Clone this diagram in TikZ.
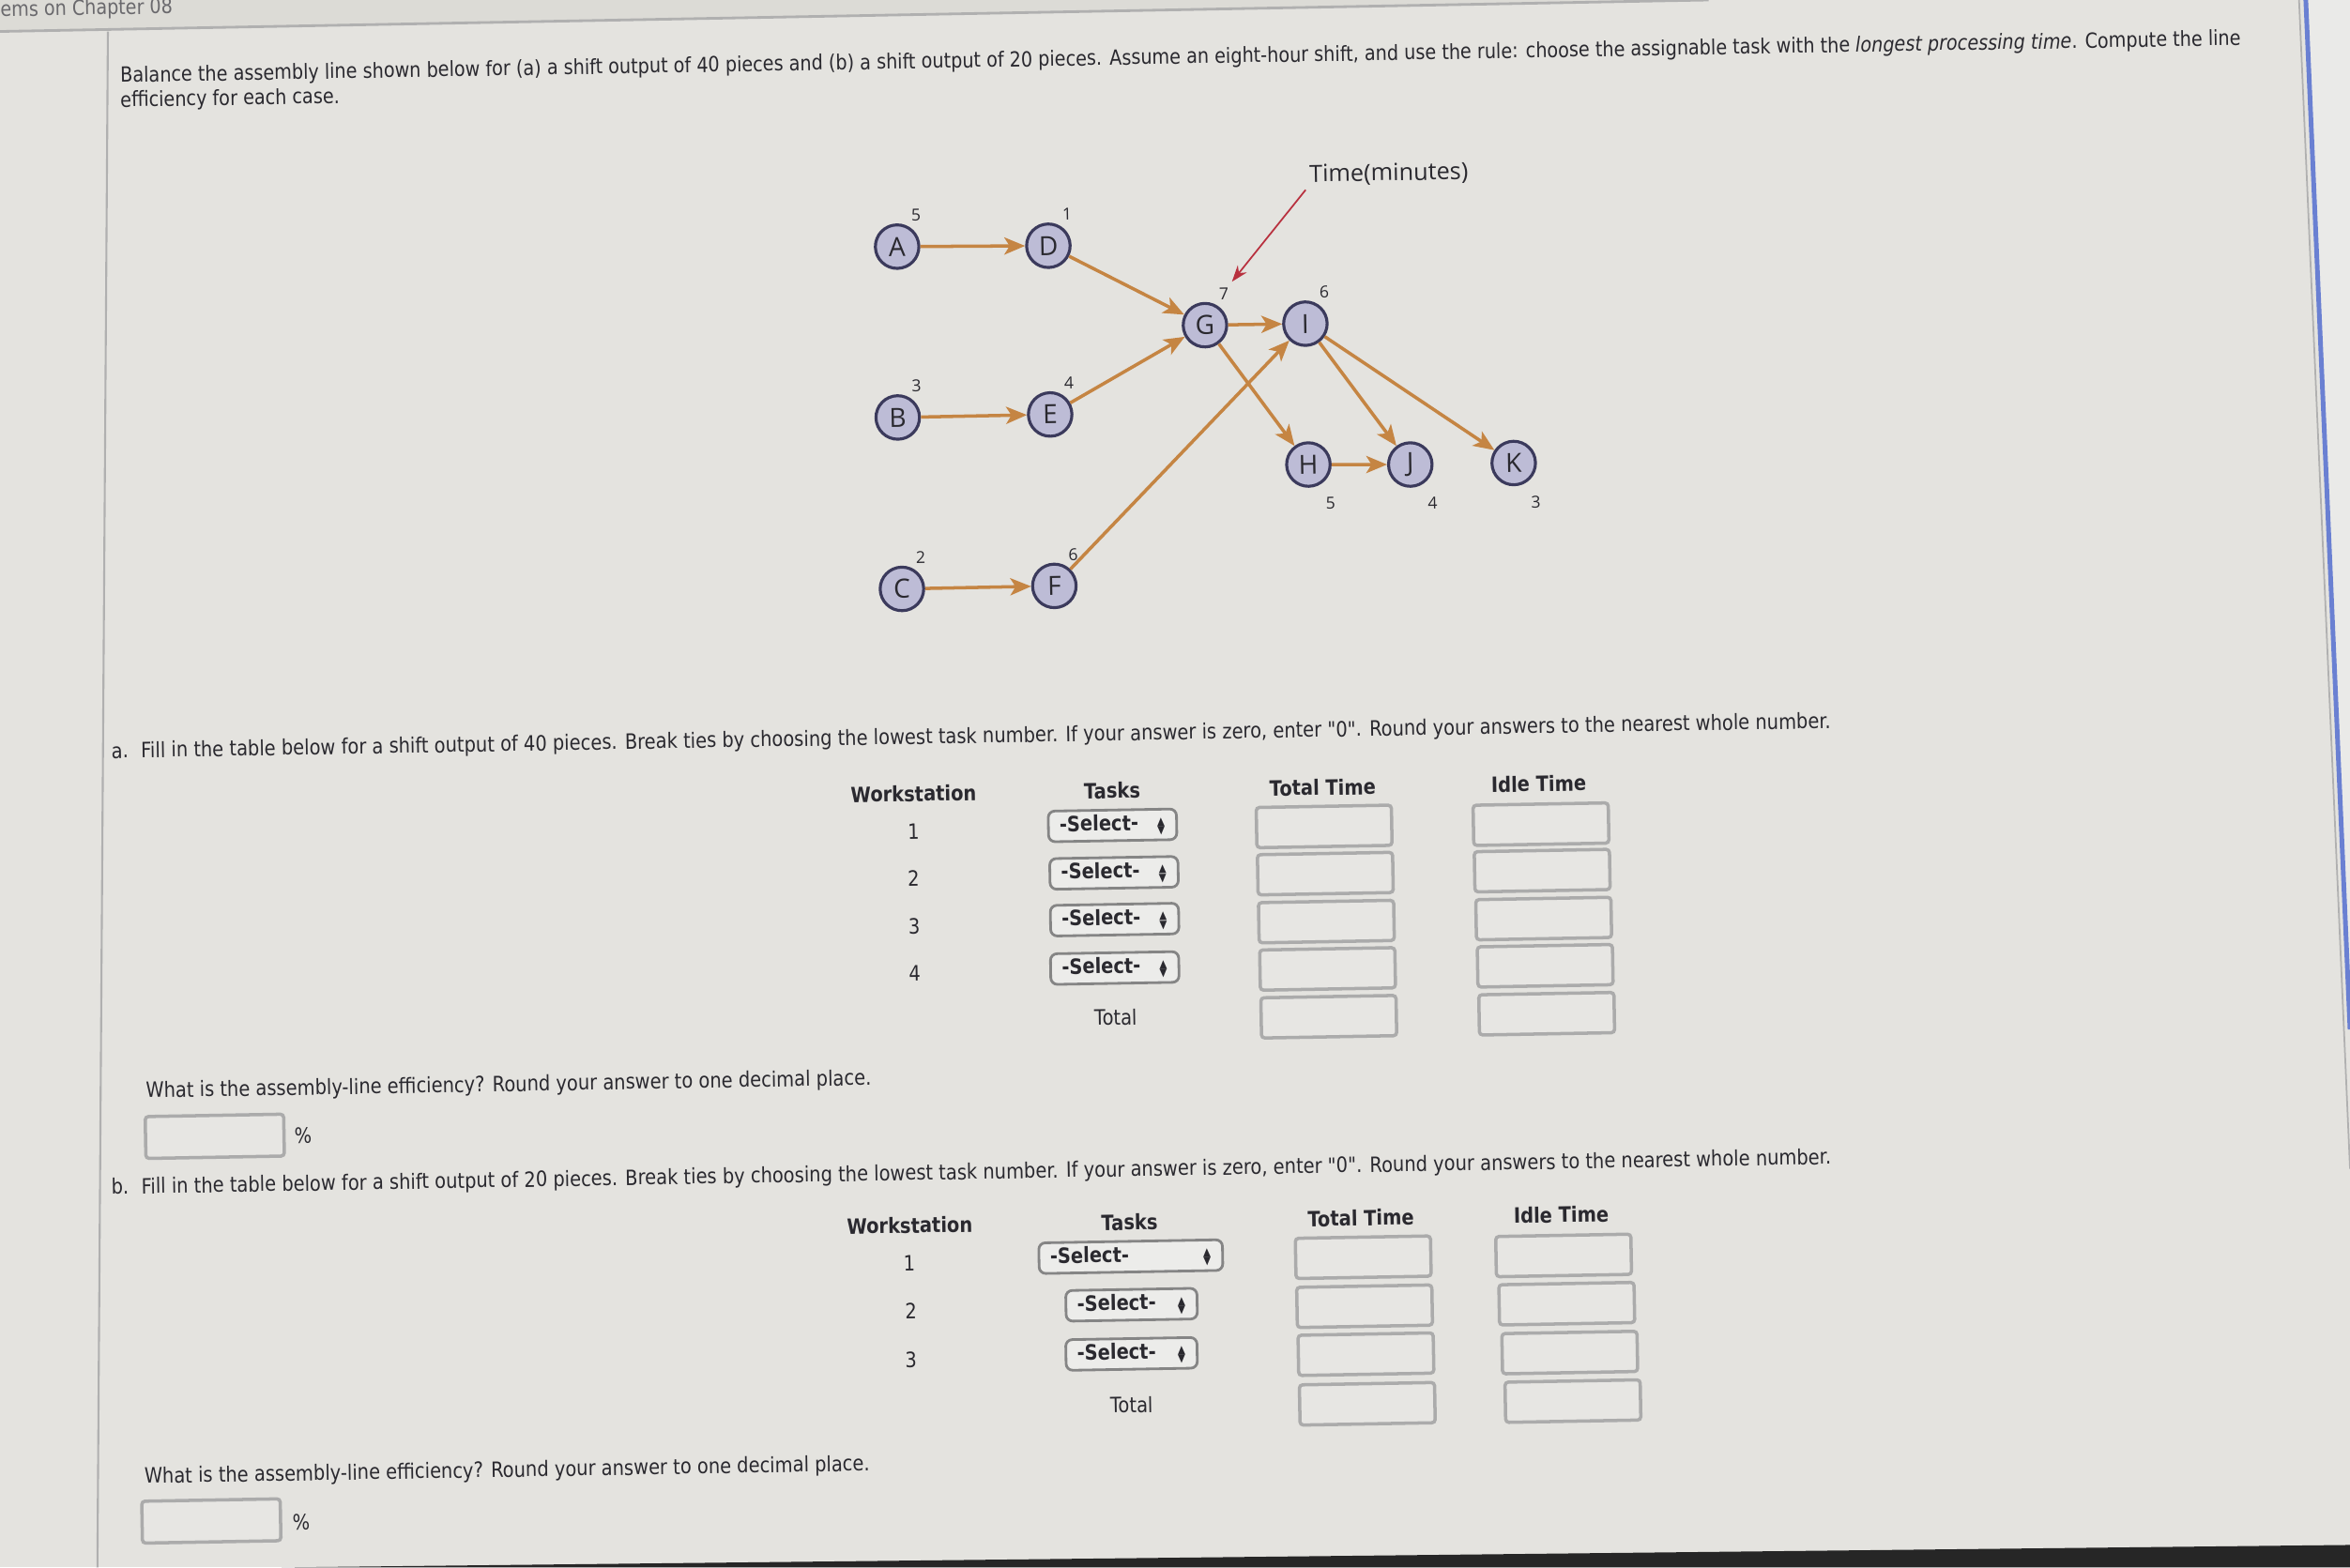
\documentclass[tikz,border=0pt]{standalone}
\usepackage{fontspec}
\setmainfont{DejaVu Sans}[FakeStretch=0.865, Ligatures=TeXOff, ItalicFont={DejaVu Sans Oblique}, BoldFont={DejaVu Sans Bold}]
\newfontfamily\diagfont{Open Sans}
\usetikzlibrary{arrows.meta}
\definecolor{screen}{HTML}{E4E3DF}
\definecolor{tabbar}{HTML}{DCDBD6}
\definecolor{sidepane}{HTML}{EAEAE8}
\definecolor{frame}{HTML}{B0B0B0}
\definecolor{bluebar}{HTML}{6A80D2}
\definecolor{darkband}{HTML}{262626}
\definecolor{ink}{HTML}{2A292F}
\definecolor{nodefill}{HTML}{BDBCD6}
\definecolor{nodeline}{HTML}{3B3A5C}
\definecolor{flowc}{HTML}{C58543}
\definecolor{timered}{HTML}{B8313F}
\definecolor{boxline}{HTML}{ABABAB}
\definecolor{boxfill}{HTML}{E7E6E3}
\definecolor{selline}{HTML}{858585}
\definecolor{selfill}{HTML}{ECECEA}
\newcommand{\updown}{{\fontsize{3.4}{3.6}\selectfont\raisebox{1.5pt}{▲}\llap{\raisebox{-1.2pt}{▼}}}}
\newcommand{\selfield}[1]{\makebox[#1][l]{\hspace{3.4pt}-Select-\hfill\updown\hspace{3.6pt}}}
\begin{document}
\begin{tikzpicture}[x=0.01597cm, y=-0.01597cm,
  font=\fontsize{6.4}{7.6}\selectfont,
  every node/.append style={rotate=1},
  task/.style={circle, draw=nodeline, fill=nodefill, line width=0.9pt, minimum size=13.2pt, inner sep=0pt, text=ink, font=\diagfont\fontsize{8}{8}\selectfont},
  tlbl/.style={inner sep=0pt, text=ink, font=\diagfont\fontsize{5}{5}\selectfont},
  flow/.style={-{Stealth[length=6.3pt,width=5.2pt,inset=1.6pt]}, draw=flowc, line width=1pt},
  prose/.style={anchor=base west, inner sep=0pt, text=ink},
  colhead/.style={inner sep=0pt, text=ink, font=\bfseries\fontsize{6.4}{7.6}\selectfont},
  cell/.style={inner sep=0pt, text=ink},
  inbox/.style={draw=boxline, fill=boxfill, line width=1pt, rounded corners=1pt, minimum width=41pt, minimum height=12.2pt, inner sep=0pt},
  selbox/.style={draw=selline, fill=selfill, line width=0.8pt, rounded corners=2pt, minimum height=9.3pt, inner sep=0pt, text=ink, font=\bfseries\fontsize{6.4}{7.6}\selectfont}]
\useasboundingbox (0,0) rectangle (1568,1046);
\fill[screen] (0,0) rectangle (1568,1046);
\fill[tabbar] (0,0) -- (1140,0) -- (0,21) -- cycle;
\draw[frame, line width=0.8pt] (0,21) -- (1140,0);
\draw[frame, line width=0.6pt] (72,21) -- (65,1046);
\fill[sidepane] (1540,0) -- (1568,0) -- (1568,687) -- cycle;
\draw[frame, line width=0.5pt] (1534,0) -- (1568,780);
\draw[bluebar, line width=1.4pt] (1538.5,0) -- (1568,687);
\fill[darkband] (188,1046) -- (1568,1031) -- (1568,1046) -- cycle;
\node[anchor=base west, inner sep=0pt, text=ink!70, font=\fontsize{6.3}{7}\selectfont] (chap) at (0,11) {ems on Chapter 08};

% question text
\node[prose, font=\fontsize{6.32}{7.6}\selectfont] (intro1) at (80,55) {Balance the assembly line shown below for (a) a shift output of 40 pieces and (b) a shift output of 20 pieces. Assume an eight-hour shift, and use the rule: choose the assignable task with the \textit{longest processing time}. Compute the line};
\node[prose, font=\fontsize{6.32}{7.6}\selectfont] (intro2) at (80,71.5) {efficiency for each case.};

% precedence diagram
\node[task, label={[tlbl,label distance=1.5pt]60:5}] (A) at (598.6,164.6) {A};
\node[task, label={[tlbl,label distance=1.5pt]60:1}] (D) at (699.5,164) {D};
\node[task, label={[tlbl,label distance=1.5pt]60:7}] (G) at (804,217) {G};
\node[task, label={[tlbl,label distance=1.5pt]60:6}] (I) at (871,216) {I};
\node[task, label={[tlbl,label distance=1.5pt]60:3}] (B) at (599,278.6) {B};
\node[task, label={[tlbl,label distance=1.5pt]60:4}] (E) at (700.7,276.6) {E};
\node[task, label={[tlbl,label distance=1.5pt]60:2}] (C) at (601.8,393) {C};
\node[task, label={[tlbl,label distance=1.5pt]60:6}] (F) at (703.5,391) {F};
\node[task, label={[tlbl,label distance=4pt]-64:5}] (H) at (873,310) {H};
\node[task, label={[tlbl,label distance=4pt]-64:4}] (J) at (941,310) {J};
\node[task, label={[tlbl,label distance=4pt]-64:3}] (K) at (1010,309) {K};
\draw[flow] (A) -- (D);
\draw[flow] (B) -- (E);
\draw[flow] (C) -- (F);
\draw[flow] (D) -- (G);
\draw[flow] (E) -- (G);
\draw[flow] (F) -- (I);
\draw[flow] (G) -- (I);
\draw[flow] (G) -- (H);
\draw[flow] (H) -- (J);
\draw[flow] (I) -- (J);
\draw[flow] (I) -- (K);
\node[anchor=west, inner sep=1pt, text=ink, font=\diagfont\fontsize{7.2}{8}\selectfont] (timelbl) at (871,117) {Time(minutes)};
\coordinate (timetip) at (822,188);
\draw[-{Stealth[length=5pt,width=3.5pt]}, timered, line width=0.5pt] (timelbl.south west) -- (timetip);

% part a
\node[prose] (parta) at (74,506) {a.\hspace{0.6em}Fill in the table below for a shift output of 40 pieces. Break ties by choosing the lowest task number. If your answer is zero, enter "0". Round your answers to the nearest whole number.};
\node[colhead] (wsa) at (609.6,529.6) {Workstation};
\node[colhead] (tka) at (742,527.5) {Tasks};
\node[colhead] (tta) at (882.5,525.4) {Total Time};
\node[colhead] (ita) at (1026.7,523) {Idle Time};
\node[cell] (wa1) at (609.6,555) {1};
\node[cell] (wa2) at (609.6,586) {2};
\node[cell] (wa3) at (610,618) {3};
\node[cell] (wa4) at (610.3,649.4) {4};
\node[cell] (tota) at (744.4,678.8) {Total};
\node[selbox] (sa1) at (742.3,550.8) {\selfield{38.9pt}};
\node[selbox] (sa2) at (743.3,582.5) {\selfield{38.9pt}};
\node[selbox] (sa3) at (743.7,613.7) {\selfield{38.9pt}};
\node[selbox] (sa4) at (743.8,646) {\selfield{38.9pt}};
\node[inbox] (ta1) at (883.5,551.5) {};
\node[inbox] (ta2) at (884.3,583) {};
\node[inbox] (ta3) at (885,615) {};
\node[inbox] (ta4) at (885.8,646.6) {};
\node[inbox] (ta5) at (886.6,678.5) {};
\node[inbox] (ia1) at (1028.2,550) {};
\node[inbox] (ia2) at (1029,581) {};
\node[inbox] (ia3) at (1030,613) {};
\node[inbox] (ia4) at (1031,644.5) {};
\node[inbox] (ia5) at (1032,676.5) {};
\node[prose] (effqa) at (97,732.6) {What is the assembly-line efficiency? Round your answer to one decimal place.};
\node[inbox, minimum width=42pt, minimum height=12.7pt] (effa) at (143.3,758.3) {};
\node[cell] (pcta) at (202.3,757.6) {\%};

% part b
\node[prose] (partb) at (74,797) {b.\hspace{0.6em}Fill in the table below for a shift output of 20 pieces. Break ties by choosing the lowest task number. If your answer is zero, enter "0". Round your answers to the nearest whole number.};
\node[colhead] (wsb) at (607,817.6) {Workstation};
\node[colhead] (tkb) at (753.6,815.6) {Tasks};
\node[colhead] (ttb) at (908,812.7) {Total Time};
\node[colhead] (itb) at (1041.7,810.6) {Idle Time};
\node[cell] (wb1) at (606.8,842.8) {1};
\node[cell] (wb2) at (607.8,875) {2};
\node[cell] (wb3) at (607.8,907.3) {3};
\node[cell] (totb) at (755,937.4) {Total};
\node[selbox] (sb1) at (754.5,838.6) {\selfield{55.7pt}};
\node[selbox] (sb2) at (755,870.7) {\selfield{39.8pt}};
\node[selbox] (sb3) at (755,903.5) {\selfield{39.8pt}};
\node[inbox] (tb1) at (909.6,839) {};
\node[inbox] (tb2) at (910.5,871.7) {};
\node[inbox] (tb3) at (911.4,903.7) {};
\node[inbox] (tb4) at (912.3,936.8) {};
\node[inbox] (ib1) at (1043.3,837.8) {};
\node[inbox] (ib2) at (1045.4,870) {};
\node[inbox] (ib3) at (1047.4,902.6) {};
\node[inbox] (ib4) at (1049.5,935) {};
\node[prose] (effqb) at (96,990) {What is the assembly-line efficiency? Round your answer to one decimal place.};
\node[inbox, minimum width=42pt, minimum height=12.7pt] (effb) at (141,1015) {};
\node[cell] (pctb) at (201,1015.5) {\%};
\end{tikzpicture}
\end{document}
